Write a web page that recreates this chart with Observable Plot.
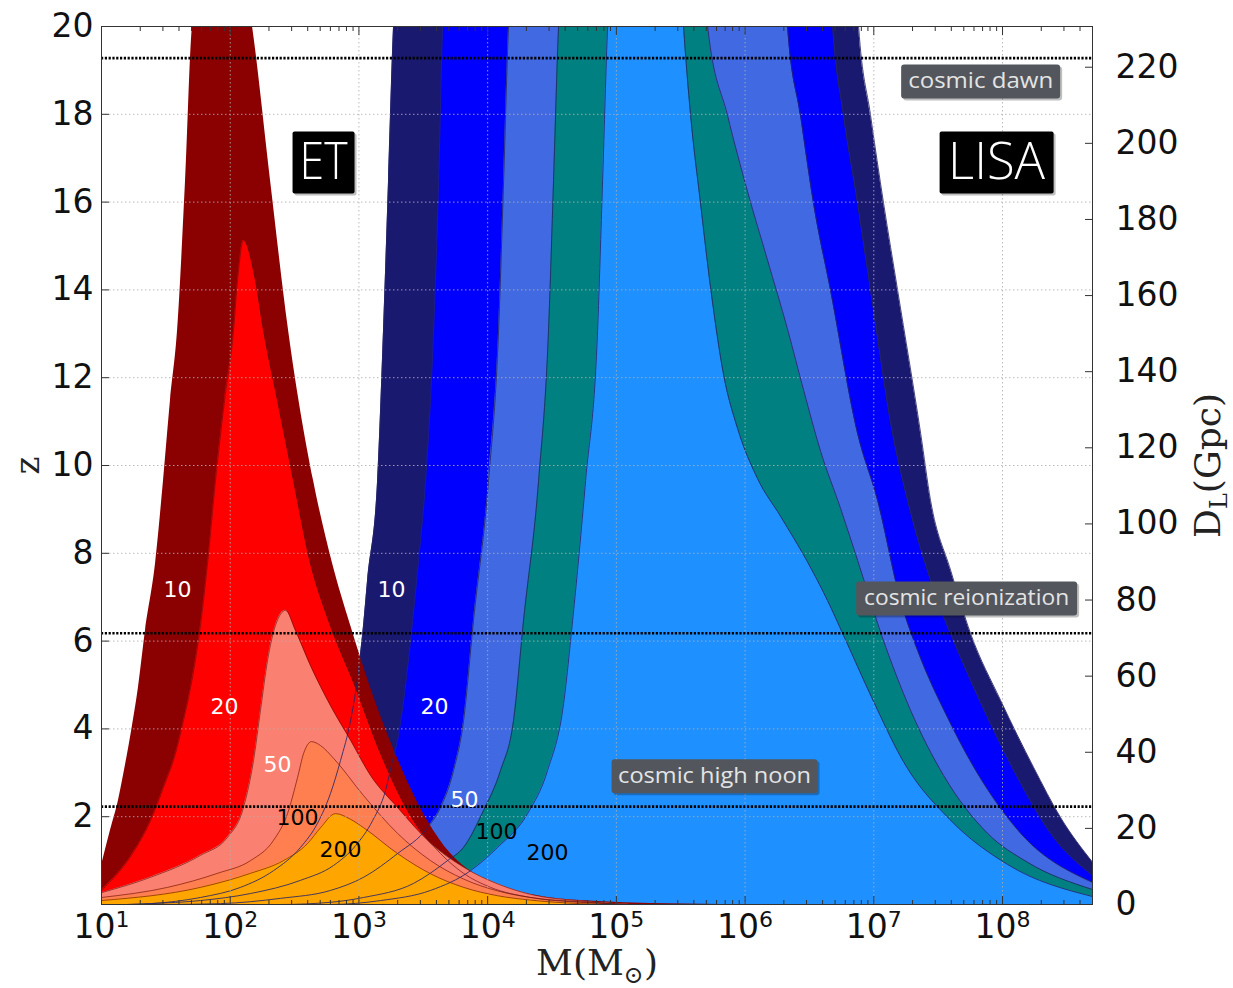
<!DOCTYPE html>
<html><head><meta charset="utf-8">
<script src="https://cdn.jsdelivr.net/npm/d3@7"></script>
<script src="https://cdn.jsdelivr.net/npm/@observablehq/plot@0.6"></script>
<style>
body{margin:0;background:#fff;}
#wrap{position:relative;width:1233px;height:988px;}
#wrap svg{position:absolute;left:0;top:0;}
</style></head><body><div id="wrap"></div>
<script>
// ---------- DATA: curves are [log10(M/Msun), z] ----------
const snrLevels = ["10", "20", "50", "100", "200"];

const et10 = [[1.000,0.89],[1.070,1.69],[1.132,2.37],[1.186,3.17],[1.241,4.08],[1.287,4.94],[1.342,6.24],[1.420,7.77],[1.482,9.66],[1.536,11.48],[1.591,13.08],[1.653,16.49],[1.707,20.0],[1.940,23.0],[2.173,20.0],[2.313,16.49],[2.453,13.08],[2.647,9.66],[2.795,7.77],[2.935,6.36],[3.090,4.94],[3.284,3.44],[3.533,1.91],[3.712,1.16],[3.890,0.71],[4.124,0.39],[4.465,0.16],[4.854,0.07],[5.266,0.02],[5.810,0]];
const et20 = [[1.000,0.32],[1.241,1.16],[1.381,1.91],[1.482,2.67],[1.575,3.44],[1.637,4.19],[1.692,4.94],[1.769,6.36],[1.824,7.77],[1.886,9.66],[1.956,11.48],[2.026,13.08],[2.057,14.21],[2.103,15.13],[2.197,14.21],[2.259,13.08],[2.368,11.48],[2.492,9.66],[2.624,7.77],[2.764,6.47],[2.974,4.94],[3.168,3.44],[3.424,1.91],[3.634,1.16],[3.813,0.71],[4.023,0.39],[4.333,0.16],[4.722,0.05],[5.188,0]];
const et50 = [[1.000,0.27],[1.381,0.62],[1.769,1.12],[1.979,1.53],[2.103,2.21],[2.181,3.28],[2.235,4.42],[2.290,5.56],[2.352,6.36],[2.430,6.70],[2.507,6.24],[2.624,5.44],[2.779,4.53],[2.935,3.74],[3.090,2.94],[3.300,2.21],[3.556,1.40],[3.813,0.85],[4.077,0.47],[4.333,0.23],[4.722,0.08],[5.110,0]];
const et100 = [[1.000,0.16],[1.513,0.39],[1.901,0.71],[2.158,1.00],[2.336,1.46],[2.445,2.07],[2.523,2.89],[2.570,3.44],[2.632,3.71],[2.702,3.62],[2.803,3.33],[3.036,2.48],[3.300,1.62],[3.556,1.00],[3.813,0.58],[4.077,0.31],[4.333,0.16],[4.722,0.06],[5.110,0]];
const et200 = [[1.000,0.09],[1.769,0.39],[2.158,0.71],[2.414,1.00],[2.601,1.39],[2.702,1.75],[2.818,2.07],[2.935,1.94],[3.036,1.75],[3.300,1.16],[3.556,0.70],[3.813,0.39],[4.077,0.20],[4.333,0.10],[4.722,0.02],[5.033,0]];

const lisa10 = [[1.200,0],[1.381,0.02],[1.769,0.16],[2.080,0.39],[2.336,0.77],[2.546,1.30],[2.678,1.85],[2.779,2.53],[2.857,3.28],[2.935,4.19],[2.997,5.33],[3.036,6.36],[3.067,7.38],[3.145,9.66],[3.191,13.08],[3.230,16.49],[3.269,20.0],[3.300,21.5],[6.851,21.5],[6.882,20.0],[6.975,17.97],[7.076,15.97],[7.185,13.99],[7.364,10.73],[7.441,9.20],[7.597,7.61],[7.752,6.17],[7.985,4.65],[8.242,3.12],[8.451,1.98],[8.700,0.96]];
const lisa20 = [[1.200,0],[1.381,0.02],[1.769,0.09],[2.158,0.25],[2.546,0.55],[2.803,0.89],[2.974,1.34],[3.106,1.91],[3.207,2.60],[3.261,3.28],[3.300,3.74],[3.347,4.65],[3.417,6.47],[3.463,7.84],[3.518,9.66],[3.580,13.08],[3.619,16.49],[3.650,20.0],[3.681,21.5],[6.649,21.5],[6.680,20.0],[6.765,17.97],[6.874,15.97],[6.975,13.99],[7.146,10.73],[7.263,9.20],[7.496,6.92],[7.651,5.79],[7.884,4.26],[8.141,2.76],[8.374,1.62],[8.700,0.66]];
const lisa50 = [[1.500,0],[1.925,0.02],[2.391,0.14],[2.779,0.32],[3.036,0.62],[3.300,1.16],[3.533,1.75],[3.634,2.21],[3.735,3.05],[3.813,4.19],[3.890,6.47],[4.007,9.66],[4.085,13.08],[4.124,16.49],[4.162,20.0],[4.193,21.5],[6.299,21.5],[6.330,20.0],[6.431,17.97],[6.532,15.97],[6.664,13.99],[6.874,10.73],[7.030,9.20],[7.208,6.92],[7.340,5.79],[7.573,4.26],[7.853,2.76],[8.141,1.62],[8.700,0.50]];
const lisa100 = [[2.000,0],[2.391,0],[2.779,0.05],[3.036,0.16],[3.424,0.48],[3.688,1.00],[3.813,1.30],[3.968,2.14],[4.100,3.05],[4.201,4.19],[4.279,6.47],[4.396,9.66],[4.473,13.08],[4.512,16.49],[4.551,20.0],[4.582,21.5],[5.678,21.5],[5.709,20.0],[5.864,17.97],[6.019,16.24],[6.175,14.67],[6.330,13.10],[6.455,11.71],[6.587,10.32],[6.742,9.02],[6.874,7.84],[7.061,6.13],[7.286,4.42],[7.542,2.94],[7.884,1.62],[8.195,0.96],[8.700,0.34]];
const lisa200 = [[2.500,0],[2.779,0],[3.168,0.09],[3.556,0.32],[3.867,0.77],[4.077,1.30],[4.310,2.07],[4.465,3.05],[4.590,4.58],[4.660,6.47],[4.761,9.66],[4.854,13.08],[4.893,16.49],[4.932,20.0],[4.963,21.5],[5.491,21.5],[5.522,20.0],[5.577,17.97],[5.654,15.97],[5.732,14.05],[5.833,12.07],[5.942,10.84],[6.097,9.70],[6.276,8.84],[6.478,7.84],[6.641,6.92],[6.765,6.13],[6.983,4.72],[7.247,3.17],[7.589,1.94],[8.040,0.91],[8.700,0.18]];

// SNR contour labels (log10 M, z)
const etLabelLM = [1.591, 1.956, 2.368, 2.523, 2.857];
const etLabelZ  = [7.17, 4.51, 3.17, 1.98, 1.25];
const lisaLabelLM = [3.253, 3.588, 3.820, 4.069, 4.465];
const lisaLabelZ  = [7.17, 4.51, 2.39, 1.66, 1.18];

// epochs (redshift of dotted lines) and their label boxes
const epochZ = [19.28, 6.18, 2.23];
const epochNames = ["cosmic dawn", "cosmic reionization", "cosmic high noon"];
const epochLabelLM = [7.830, 7.721, 5.763];
const epochLabelZ  = [18.75, 6.97, 2.92];

// detector names
const detectorNames = ["ET", "LISA"];
const detectorLM = [2.725, 7.954];
const detectorZ  = [16.90, 16.90];

// axes
const xTicks = [1e1, 1e2, 1e3, 1e4, 1e5, 1e6, 1e7, 1e8];
const xTickLabels = ["10¹", "10²", "10³", "10⁴", "10⁵", "10⁶", "10⁷", "10⁸"];
const xTickExponents = ["1", "2", "3", "4", "5", "6", "7", "8"];
const zTicks = [2, 4, 6, 8, 10, 12, 14, 16, 18, 20];
const zGrid = [2, 4, 6, 8, 10, 12, 14, 16, 18];
const xGrid = [1e2, 1e3, 1e4, 1e5, 1e6, 1e7, 1e8];
const dlTicks = [0, 20, 40, 60, 80, 100, 120, 140, 160, 180, 200, 220];
const xDomain = [10, 5e8];
const zDomain = [0, 20];
const dlDomain = [0, 230.7];

// ---------- STYLE ----------
const etColors = ["#8b0000", "#ff0000", "#fa8072", "#ff7f50", "#ffa500"];
const lisaColors = ["#191970", "#0000ff", "#4169e1", "#008080", "#1e90ff"];
const labelFills = ["white", "white", "white", "black", "black"];
const W = 1233, H = 988;
const M = {marginLeft: 101, marginRight: 141, marginTop: 26, marginBottom: 84};

const minorX = [];
for (let e = 1; e <= 8; e++) for (let k = 2; k <= 9; k++) { const v = k * 10 ** e; if (v <= 5e8) minorX.push(v); }

const fx = d => 10 ** d[0], fy = d => d[1];
const etCurves = [et10, et20, et50, et100, et200];
const lisaCurves = [lisa10, lisa20, lisa50, lisa100, lisa200];

const marks = [];
lisaCurves.forEach((c, i) => marks.push(Plot.areaY(c, {x: fx, y: fy, fill: lisaColors[i], curve: "monotone-x", clip: true})));
etCurves.forEach((c, i) => marks.push(Plot.areaY(c, {x: fx, y: fy, fill: etColors[i], curve: "monotone-x", clip: true})));
etCurves.slice(1).forEach(c => marks.push(Plot.line(c, {x: fx, y: fy, stroke: "#6a0d0d", strokeWidth: 0.8, strokeOpacity: 0.8, curve: "monotone-x", clip: true})));
lisaCurves.forEach(c => marks.push(Plot.line(c, {x: fx, y: fy, stroke: "#262668", strokeWidth: 1, strokeOpacity: 0.85, curve: "monotone-x", clip: true})));
// grid
marks.push(Plot.ruleX(xGrid, {stroke: "#b0b0b0", strokeWidth: 1, strokeDasharray: "1.5,2.5", strokeOpacity: 0.85}));
marks.push(Plot.ruleY(zGrid, {stroke: "#b0b0b0", strokeWidth: 1, strokeDasharray: "1.5,2.5", strokeOpacity: 0.85}));
// epoch lines
marks.push(Plot.ruleY(epochZ, {stroke: "#000", strokeWidth: 2.6, strokeDasharray: "2.2,1.6"}));
// SNR labels
marks.push(Plot.text(snrLevels, {x: (d, i) => 10 ** etLabelLM[i], y: (d, i) => etLabelZ[i], text: d => d, fill: (d, i) => labelFills[i], fontSize: 22, fontFamily: "DejaVu Sans"}));
marks.push(Plot.text(snrLevels, {x: (d, i) => 10 ** lisaLabelLM[i], y: (d, i) => lisaLabelZ[i], text: d => d, fill: (d, i) => labelFills[i], fontSize: 22, fontFamily: "DejaVu Sans"}));
// epoch labels
marks.push(Plot.text(epochNames, {x: (d, i) => 10 ** epochLabelLM[i], y: (d, i) => epochLabelZ[i], text: d => d, fill: "#e4e4e4", fontSize: 21, fontFamily: "Open Sans"}));
// detector names
marks.push(Plot.text(detectorNames, {x: (d, i) => 10 ** detectorLM[i], y: (d, i) => detectorZ[i], text: d => d, fill: "white", fontSize: 52, fontWeight: 300, fontFamily: "Open Sans"}));
// frame & axes
marks.push(Plot.frame({stroke: "#333", strokeWidth: 1}));
marks.push(Plot.axisX({anchor: "bottom", ticks: xTicks, tickFormat: d => xTickLabels[xTicks.indexOf(d)], tickSize: 0, tickPadding: 10, fontSize: 33, label: null}));
marks.push(Plot.axisX({anchor: "bottom", ticks: xTicks, tickSize: -8, fill: "none", label: null, stroke: "#333"}));
marks.push(Plot.axisX({anchor: "bottom", ticks: minorX, tickSize: -4, fill: "none", label: null, stroke: "#333"}));
marks.push(Plot.axisX({anchor: "top", ticks: xTicks, tickSize: -8, fill: "none", label: null, stroke: "#333"}));
marks.push(Plot.axisX({anchor: "top", ticks: minorX, tickSize: -4, fill: "none", label: null, stroke: "#333"}));
marks.push(Plot.axisY({anchor: "left", ticks: zTicks, tickSize: 0, tickPadding: 8, fontSize: 33, label: null}));
marks.push(Plot.axisY({anchor: "left", ticks: zTicks, tickSize: -8, fill: "none", label: null, stroke: "#333"}));
marks.push(Plot.text(["M(M⊙)"], {frameAnchor: "bottom", dy: 70, textAnchor: "middle", text: d => d, fontSize: 36, fontFamily: "DejaVu Serif", fill: "#222"}));
marks.push(Plot.text(["z"], {frameAnchor: "left", dx: -73, rotate: -90, textAnchor: "middle", text: d => d, fontSize: 34, fontFamily: "DejaVu Serif", fill: "#222"}));

const main = Plot.plot({
  width: W, height: H, ...M,
  x: {type: "log", domain: xDomain},
  y: {domain: zDomain},
  style: {fontFamily: "DejaVu Sans", fontSize: "33px", background: "white", color: "#111"},
  marks
});

const right = Plot.plot({
  width: W, height: H, ...M,
  y: {domain: dlDomain},
  style: {fontFamily: "DejaVu Sans", fontSize: "33px", background: "transparent", color: "#111"},
  marks: [
    Plot.axisY({anchor: "right", ticks: dlTicks, tickSize: 0, tickPadding: 23, fontSize: 33, label: null}),
    Plot.axisY({anchor: "right", ticks: dlTicks, tickSize: -8, fill: "none", label: null, stroke: "#333"}),
    Plot.text(["D_L(Gpc)"], {frameAnchor: "right", dx: 116, rotate: -90, textAnchor: "middle", text: d => d, fontSize: 36, fontFamily: "DejaVu Serif", fill: "#222"})
  ]
});

const wrap = document.getElementById("wrap");
wrap.appendChild(main);
wrap.appendChild(right);

// ---------- post-processing: superscripts, subscripts and label boxes ----------
function rich(svg, content, build) {
  d3.select(svg).selectAll("text").filter(function () { return this.textContent === content; }).each(function () {
    const t = d3.select(this); t.text(null); build(t);
  });
}
xTickLabels.forEach((lab, i) => rich(main, lab, t => {
  t.append("tspan").text("10");
  t.append("tspan").attr("font-size", "22px").attr("dy", "-11").text(xTickExponents[i]);
}));
rich(main, "M(M⊙)", t => {
  t.append("tspan").text("M(M");
  t.append("tspan").attr("font-size", "24px").attr("dy", "8").text("⊙");
  t.append("tspan").attr("dy", "-8").text(")");
});
rich(right, "D_L(Gpc)", t => {
  t.append("tspan").text("D");
  t.append("tspan").attr("font-size", "24px").attr("dy", "7").text("L");
  t.append("tspan").attr("dy", "-7").text("(Gpc)");
});

const boxStyle = {
  "ET": {w: 62, h: 62, fill: "#000", rx: 2, tw: 48},
  "LISA": {w: 114, h: 62, fill: "#000", rx: 2, tw: 97},
  "cosmic dawn": {w: 159, h: 34, fill: "#53575d", rx: 3, tw: 145},
  "cosmic reionization": {w: 221, h: 34, fill: "#53575d", rx: 3, tw: 205},
  "cosmic high noon": {w: 206, h: 34, fill: "#53575d", rx: 3, tw: 193}
};
d3.select(main).selectAll("text").filter(function () { return boxStyle[this.textContent]; }).each(function () {
  const s = boxStyle[this.textContent];
  const tr = this.getAttribute("transform");
  const p = this.parentNode;
  const ns = "http://www.w3.org/2000/svg";
  const sh = document.createElementNS(ns, "rect");
  sh.setAttribute("x", -s.w / 2 + 2); sh.setAttribute("y", -s.h / 2 + 2);
  sh.setAttribute("width", s.w); sh.setAttribute("height", s.h); sh.setAttribute("rx", s.rx);
  sh.setAttribute("fill", "#000"); sh.setAttribute("fill-opacity", 0.25);
  if (tr) sh.setAttribute("transform", tr);
  const r = document.createElementNS(ns, "rect");
  r.setAttribute("x", -s.w / 2); r.setAttribute("y", -s.h / 2);
  r.setAttribute("width", s.w); r.setAttribute("height", s.h); r.setAttribute("rx", s.rx);
  r.setAttribute("fill", s.fill);
  if (tr) r.setAttribute("transform", tr);
  p.insertBefore(sh, this);
  p.insertBefore(r, this);
  this.setAttribute("textLength", s.tw);
  this.setAttribute("lengthAdjust", "spacingAndGlyphs");
});
</script>
</body></html>
